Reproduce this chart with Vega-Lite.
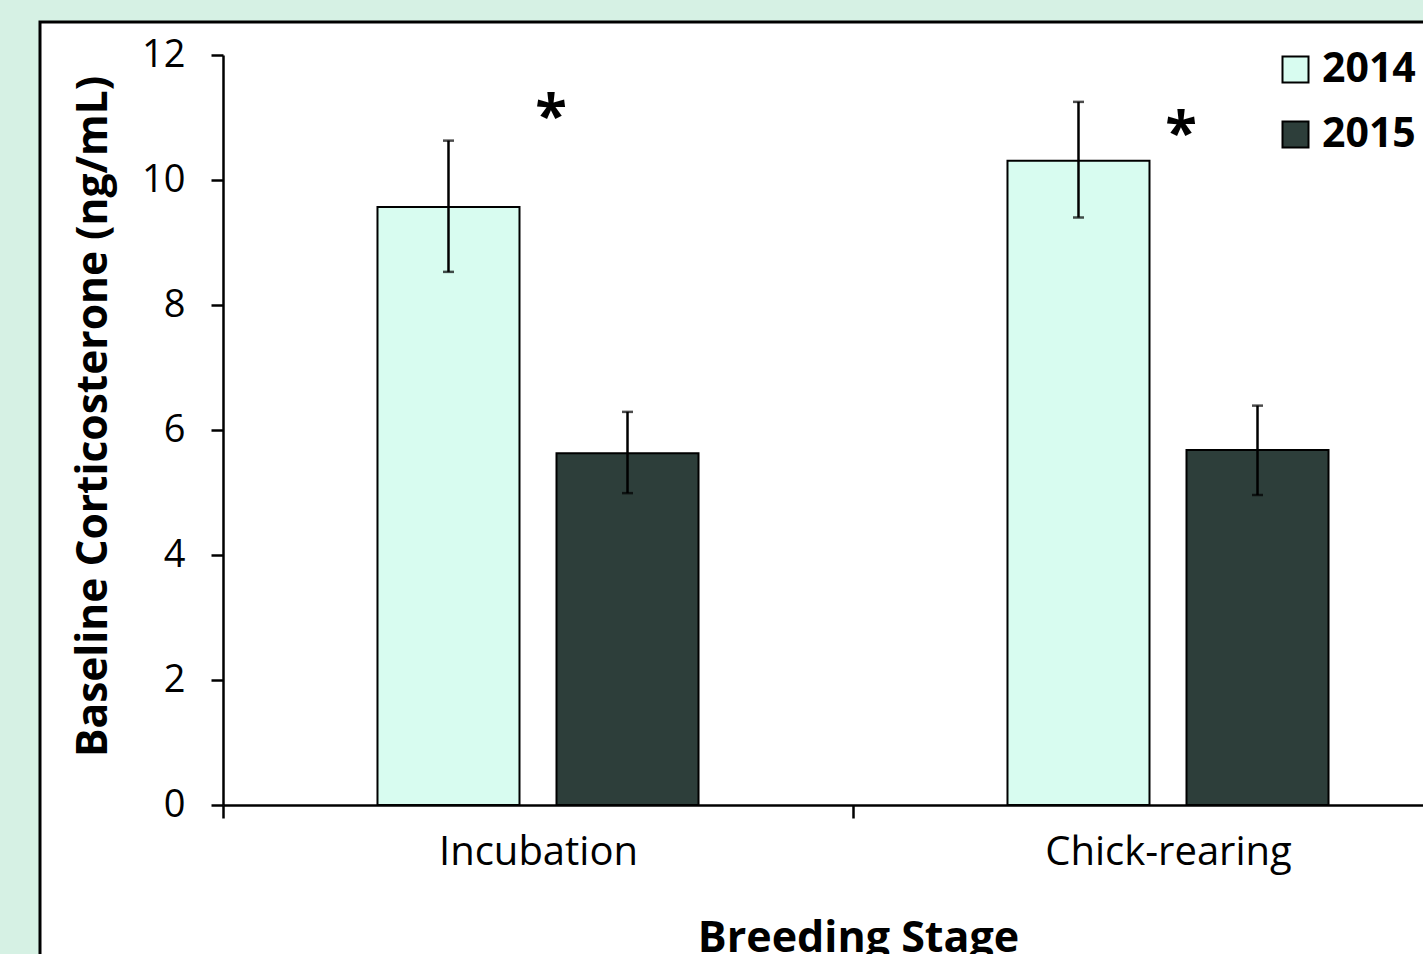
{
  "$schema": "https://vega.github.io/schema/vega-lite/v6.json",
  "width": 1386,
  "height": 935,
  "autosize": {"type": "none"},
  "padding": {"left": 40, "top": 22, "right": 0, "bottom": 0},
  "background": "#d6f1e4",
  "config": {
    "view": {"fill": "white", "stroke": "black", "strokeWidth": 3},
    "font": "Open Sans"
  },
  "datasets": {
    "bars": [
      {"stage": "Incubation", "year": "2014", "mean": 9.57, "lo": 8.53, "hi": 10.63},
      {"stage": "Incubation", "year": "2015", "mean": 5.63, "lo": 4.99, "hi": 6.29},
      {"stage": "Chick-rearing", "year": "2014", "mean": 10.31, "lo": 9.40, "hi": 11.25},
      {"stage": "Chick-rearing", "year": "2015", "mean": 5.68, "lo": 4.96, "hi": 6.39}
    ],
    "stars": [
      {"stage": "Incubation", "pos": 11.2, "label": "*"},
      {"stage": "Chick-rearing", "pos": 10.93, "label": "*"}
    ]
  },
  "layer": [
    {
      "data": {"name": "bars"},
      "mark": {"type": "bar", "stroke": "black", "strokeWidth": 2},
      "encoding": {
        "x": {
          "field": "stage", "type": "nominal",
          "scale": {"domain": ["Incubation", "Chick-rearing"], "range": [183, 1443], "paddingInner": 0, "paddingOuter": 0},
          "axis": {
            "orient": "bottom", "offset": -152, "tickBand": "extent",
            "tickSize": 13, "tickWidth": 2.5, "tickColor": "black",
            "domainWidth": 2.5, "domainColor": "black",
            "labelFontSize": 40, "labelColor": "black", "labelPadding": 14, "labelAngle": 0, "labelLimit": 0,
            "title": "Breeding Stage", "titleFontSize": 43, "titleFontWeight": "bold", "titleColor": "black",
            "titleX": 818, "titleY": 146, "titleBaseline": "alphabetic", "titleAlign": "center"
          }
        },
        "xOffset": {
          "field": "year", "type": "nominal",
          "scale": {"domain": ["2014", "2015"], "paddingInner": 0.2067, "paddingOuter": 0.863}
        },
        "y": {
          "field": "mean", "type": "quantitative",
          "scale": {"domain": [0, 12], "range": [783, 33], "nice": false},
          "axis": {
            "orient": "left", "offset": -183, "values": [0, 2, 4, 6, 8, 10, 12], "format": "d", "grid": false,
            "tickSize": 12, "tickWidth": 2.5, "tickColor": "black",
            "domainWidth": 2.5, "domainColor": "black",
            "labelFontSize": 38, "labelColor": "black", "labelPadding": 26,
            "title": "Baseline Corticosterone (ng/mL)", "titleFontSize": 42.5, "titleFontWeight": "bold", "titleColor": "black",
            "titleX": -130, "titleY": 394, "titleAngle": 270, "titleBaseline": "middle", "titleAlign": "center"
          }
        },
        "color": {
          "field": "year", "type": "nominal",
          "scale": {"domain": ["2014", "2015"], "range": ["#d8fcf0", "#2d3e3a"]},
          "legend": {
            "orient": "none", "legendX": 1235, "legendY": 27, "title": null, "padding": 0,
            "symbolType": "square", "symbolSize": 676, "symbolStrokeColor": "black", "symbolStrokeWidth": 2,
            "symbolOpacity": 1,
            "labelFontSize": 41, "labelFontWeight": "bold", "labelColor": "black", "labelOffset": 6,
            "rowPadding": 23
          }
        }
      }
    },
    {
      "data": {"name": "bars"},
      "mark": {"type": "rule", "color": "black", "strokeWidth": 2.5},
      "encoding": {
        "x": {"field": "stage", "type": "nominal"},
        "xOffset": {"field": "year", "type": "nominal"},
        "y": {"field": "lo", "type": "quantitative"},
        "y2": {"field": "hi"}
      }
    },
    {
      "data": {"name": "bars"},
      "mark": {"type": "tick", "color": "black", "size": 11, "thickness": 2.5, "orient": "horizontal"},
      "encoding": {
        "x": {"field": "stage", "type": "nominal"},
        "xOffset": {"field": "year", "type": "nominal"},
        "y": {"field": "lo", "type": "quantitative"}
      }
    },
    {
      "data": {"name": "bars"},
      "mark": {"type": "tick", "color": "black", "size": 11, "thickness": 2.5, "orient": "horizontal"},
      "encoding": {
        "x": {"field": "stage", "type": "nominal"},
        "xOffset": {"field": "year", "type": "nominal"},
        "y": {"field": "hi", "type": "quantitative"}
      }
    },
    {
      "data": {"name": "stars"},
      "mark": {"type": "text", "fontSize": 58, "fontWeight": "bold", "color": "black", "baseline": "alphabetic", "align": "center", "dx": 13, "dy": 31},
      "encoding": {
        "x": {"field": "stage", "type": "nominal"},
        "y": {"field": "pos", "type": "quantitative"},
        "text": {"field": "label"}
      }
    }
  ]
}
